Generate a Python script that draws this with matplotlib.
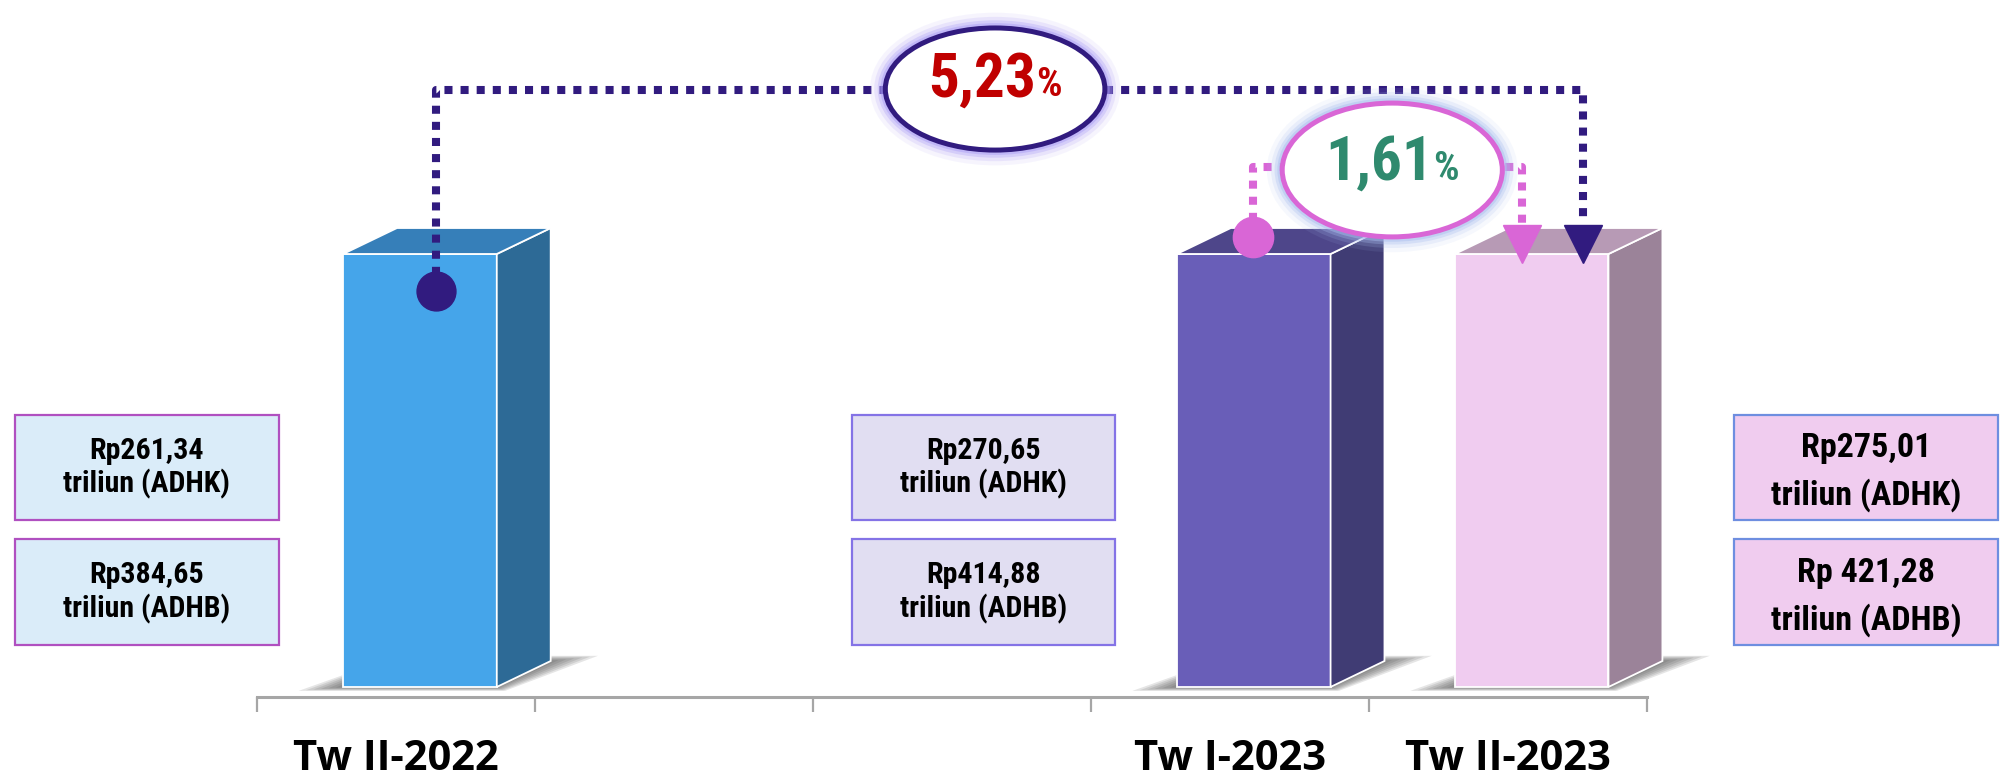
import matplotlib
matplotlib.use("Agg")
import matplotlib.pyplot as plt
from matplotlib.patches import Polygon, Ellipse, Rectangle
from matplotlib.offsetbox import TextArea, HPacker, AnnotationBbox
from matplotlib import font_manager
import numpy as np

# ---------------- data ----------------
categories = ["Tw II-2022", "", "", "Tw I-2023", "Tw II-2023"]
bar_index = [0, 3, 4]
bar_heights = [100, 100, 100]          # bars are drawn with equal height
adhk_text = ["Rp261,34", "Rp270,65", "Rp275,01"]
adhb_text = ["Rp384,65", "Rp414,88", "Rp 421,28"]
growth_yoy = "5,23"      # Tw II-2022 -> Tw II-2023
growth_qtq = "1,61"      # Tw I-2023 -> Tw II-2023

# ---------------- styles ----------------
front_cols = ["#45A5EA", "#695EB8", "#F0CCF0"]
side_cols = ["#2D6A96", "#403C74", "#9B8399"]
top_cols = ["#367FB9", "#4E468A", "#B79AB5"]
box_fill = ["#DAECF9", "#E1DEF2", "#F0CCEF"]
box_edge = ["#B050C0", "#8473E6", "#6E8EE0"]
navy = "#311B7F"
pink = "#D966D6"

avail = {f.name for f in font_manager.fontManager.ttflist}
narrow = next((n for n in ["Liberation Sans Narrow", "Arial Narrow", "Roboto Condensed"]
               if n in avail), "DejaVu Sans")
label_font = "Open Sans" if "Open Sans" in avail else "DejaVu Sans"

fig = plt.figure(figsize=(20.14, 7.78), dpi=100)
ax = fig.add_axes([0, 0, 1, 1])
ax.set_xlim(-1.4244, 5.822)
ax.set_ylim(-21.02, 158.66)
ax.patch.set_visible(False)

# ---------------- axis ----------------
for s in ["top", "right", "left"]:
    ax.spines[s].set_visible(False)
ax.spines["bottom"].set_position(("data", -2.3))
ax.spines["bottom"].set_bounds(-0.5, len(categories) - 0.5)
ax.spines["bottom"].set_color("#A6A6A6")
ax.spines["bottom"].set_linewidth(2.2)
ax.set_yticks([])
ax.set_xticks(np.arange(-0.5, len(categories), 1.0))
ax.set_xticklabels([])
ax.set_xticks(range(len(categories)), minor=True)
ax.set_xticklabels(categories, minor=True, fontsize=30, fontweight="bold",
                   family=label_font, color="black")
ax.tick_params(axis="x", which="major", length=10.8, width=1.6,
               color="#A6A6A6", direction="out")
ax.tick_params(axis="x", which="minor", length=0, pad=30)

# ---------------- 3D bars ----------------
w = 0.553
off = -0.19
ddx = 0.194
ddy = 6.0
xs = [i + off for i in bar_index]

# shadows
for x0, h in zip(xs, bar_heights):
    x1 = x0 + w
    for k in range(6):
        f = 1 - k / 6
        poly = [(x0 - 0.16 * f, -0.9 * f), (x1 + 0.03 * f, -0.9 * f),
                (x1 + ddx + 0.17 * f, ddy + 1.2 * f), (x0 + ddx, ddy + 1.2 * f)]
        ax.add_patch(Polygon(poly, closed=True, fc="#3A3A3A", ec="none",
                             alpha=0.13, zorder=1))

ax.bar(xs, bar_heights, width=w, align="edge", color=front_cols,
       edgecolor="white", linewidth=1.3, zorder=3)
for x0, h, sc, tc in zip(xs, bar_heights, side_cols, top_cols):
    x1 = x0 + w
    ax.add_patch(Polygon([(x1, 0), (x1 + ddx, ddy), (x1 + ddx, h + ddy), (x1, h)],
                         closed=True, fc=sc, ec="white", lw=1.3, zorder=3))
    ax.add_patch(Polygon([(x0, h), (x1, h), (x1 + ddx, h + ddy), (x0 + ddx, h + ddy)],
                         closed=True, fc=tc, ec="white", lw=1.3, zorder=3))

# ---------------- value boxes ----------------
box_rel = [-1.37, -1.36, 0.815]
box_w = 0.948
box_rows = [(38.6, 24.2), (9.7, 24.5)]
box_fs = [21.5, 21.5, 24.5]
line_off = [3.9, 3.9, 5.4]
text_shift = [0.0, 0.0, -1.0]
for k, i in enumerate(bar_index):
    bx = i + box_rel[k]
    for r, (y0, hh) in enumerate(box_rows):
        ax.add_patch(Rectangle((bx, y0), box_w, hh, fc=box_fill[k], ec=box_edge[k],
                               lw=1.6, zorder=2))
        first = adhk_text[k] if r == 0 else adhb_text[k]
        second = "triliun (ADHK)" if r == 0 else "triliun (ADHB)"
        cy = y0 + hh / 2 + text_shift[k]
        ax.text(bx + box_w / 2, cy + line_off[k], first, ha="center", va="center",
                fontsize=box_fs[k], fontweight="bold", family=narrow, zorder=4)
        ax.text(bx + box_w / 2, cy - line_off[k], second, ha="center", va="center",
                fontsize=box_fs[k], fontweight="bold", family=narrow, zorder=4)

# ---------------- connectors ----------------
dot = (0, (1, 1))
nav_x0 = bar_index[0] + 0.145
nav_x1 = bar_index[2] + 0.272
nav_top = 137.9
ax.plot([nav_x0, nav_x0, nav_x1, nav_x1], [91.4, nav_top, nav_top, 106.9],
        color=navy, lw=5.8, ls=dot, dash_capstyle="butt", zorder=5)
ax.plot(nav_x0, 91.4, "o", ms=28, color=navy, mec=navy, zorder=6)
ax.plot(nav_x1, 102.4, "v", ms=28, color=navy, mec=navy, zorder=6)

pk_x0 = bar_index[1] + 0.085
pk_x1 = bar_index[2] + 0.052
pk_top = 120.1
ax.plot([pk_x0, pk_x0, pk_x1, pk_x1], [103.9, pk_top, pk_top, 106.9],
        color=pink, lw=5.8, ls=dot, dash_capstyle="butt", zorder=5)
ax.plot(pk_x0, 103.9, "o", ms=29, color=pink, mec=pink, zorder=6)
ax.plot(pk_x1, 102.4, "v", ms=28, color=pink, mec=pink, zorder=6)


def bubble(cx, cy, ww, hh, edge, glow, value, color, yoff):
    for lw_, a in [(22, 0.10), (16, 0.18), (11, 0.30), (7, 0.45)]:
        ax.add_patch(Ellipse((cx, cy), ww, hh, fc="none", ec=glow, lw=lw_,
                             alpha=a, zorder=7))
    ax.add_patch(Ellipse((cx, cy), ww, hh, fc="white", ec=edge, lw=3.6, zorder=8))
    t1 = TextArea(value, textprops=dict(fontsize=44, fontweight="bold",
                                        family=narrow, color=color))
    t2 = TextArea("%", textprops=dict(fontsize=29, fontweight="bold",
                                      family=narrow, color=color))
    pack = HPacker(children=[t1, t2], align="baseline", pad=0, sep=0)
    ab = AnnotationBbox(pack, (cx, cy), xybox=(0, yoff), boxcoords="offset points",
                        frameon=False, box_alignment=(0.5, 0.5), pad=0, zorder=9)
    ax.add_artist(ab)


bubble(2.156, 138.1, 0.79, 28.2, navy, "#A99BF5", growth_yoy, "#C00000", 7)
bubble(3.585, 119.4, 0.792, 30.9, pink, "#A9BEEE", growth_qtq, "#2F8A6E", 5)

fig.savefig("out.png", dpi=100)
